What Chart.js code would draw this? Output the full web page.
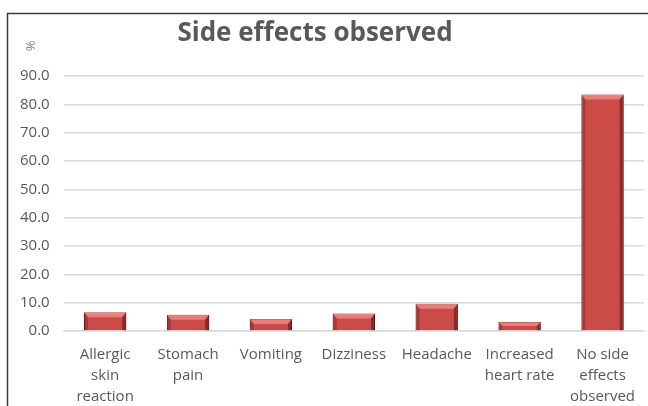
<!DOCTYPE html>
<html>
<head>
<meta charset="utf-8">
<script src="https://cdn.jsdelivr.net/npm/chart.js@4"></script>
<style>
  html, body { margin: 0; padding: 0; background: #fff; }
  #wrap { width: 648px; height: 406px; position: relative; }
</style>
</head>
<body>
<div id="wrap"><canvas id="myChart" width="648" height="406"></canvas></div>
<script>
const categories = [
    ['Allergic', 'skin', 'reaction'],
    ['Stomach', 'pain'],
    'Vomiting',
    'Dizziness',
    'Headache',
    ['Increased', 'heart rate'],
    ['No side', 'effects', 'observed'],
];
const percentages = [6.6, 5.7, 4.2, 6.2, 9.6, 3.2, 83.5];
const chartTitle = 'Side effects observed';
const axisUnit = '%';

// frame, title and the little % label
const decorations = {
    id: 'decorations',
    beforeDraw(chart) {
        const c = chart.ctx;
        c.save();
        c.strokeStyle = '#3a3a3a';
        c.lineWidth = 1.5;
        c.beginPath();
        c.moveTo(7.5, 406);
        c.lineTo(7.5, 13.5);
        c.lineTo(648, 13.5);
        c.stroke();
        c.fillStyle = '#595959';
        c.font = 'bold 26px "Open Sans"';
        c.textAlign = 'center';
        c.textBaseline = 'middle';
        c.fillText(chartTitle, 315, 34);
        c.translate(31, 46);
        c.rotate(-Math.PI / 2);
        c.font = '13px "Open Sans"';
        c.fillStyle = '#7f7f7f';
        c.fillText(axisUnit, 0, 0);
        c.restore();
    },
    afterDatasetsDraw(chart) {
        // bevel look on each bar
        const c = chart.ctx;
        chart.getDatasetMeta(0).data.forEach(bar => {
            const l = bar.x - bar.width / 2, r = bar.x + bar.width / 2;
            const t = bar.y, b = bar.base;
            const e = Math.min(5, (b - t) / 2);
            c.save();
            c.fillStyle = 'rgba(255,170,165,0.55)';
            c.beginPath();
            c.moveTo(l, t); c.lineTo(r, t); c.lineTo(r - 4, t + e); c.lineTo(l + 4, t + e); c.closePath();
            c.fill();
            c.fillStyle = 'rgba(60,0,0,0.45)';
            c.beginPath();
            c.moveTo(r, t); c.lineTo(r, b); c.lineTo(r - 4, b); c.lineTo(r - 4, t + e); c.closePath();
            c.fill();
            c.fillStyle = 'rgba(80,0,0,0.25)';
            c.beginPath();
            c.moveTo(l, t); c.lineTo(l + 4, t + e); c.lineTo(l + 4, b); c.lineTo(l, b); c.closePath();
            c.fill();
            c.restore();
        });
    }
};

new Chart(document.getElementById('myChart'), {
    type: 'bar',
    data: {
        labels: categories,
        datasets: [{
            data: percentages,
            backgroundColor: '#cb4b49',
            borderColor: '#6e1f1e',
            borderWidth: 1,
            categoryPercentage: 1,
            barPercentage: 0.51,
        }]
    },
    options: {
        responsive: false,
        animation: false,
        layout: { padding: { top: 76, left: 6, right: 4, bottom: -6 } },
        plugins: {
            legend: { display: false },
            tooltip: { enabled: false },
        },
        scales: {
            x: {
                grid: { display: false },
                border: { color: '#d9d9d9', width: 1.5 },
                ticks: {
                    color: '#595959',
                    font: { family: 'Open Sans', size: 15, lineHeight: 1.4 },
                    padding: 5,
                    maxRotation: 0,
                    autoSkip: false,
                },
            },
            y: {
                min: 0,
                max: 90,
                border: { display: false },
                grid: { color: '#d9d9d9', lineWidth: 1.5, drawTicks: false },
                ticks: {
                    stepSize: 10,
                    color: '#595959',
                    font: { family: 'Open Sans', size: 15 },
                    padding: 14,
                    callback: v => v.toFixed(1),
                },
            },
        },
    },
    plugins: [decorations],
});
</script>
</body>
</html>
